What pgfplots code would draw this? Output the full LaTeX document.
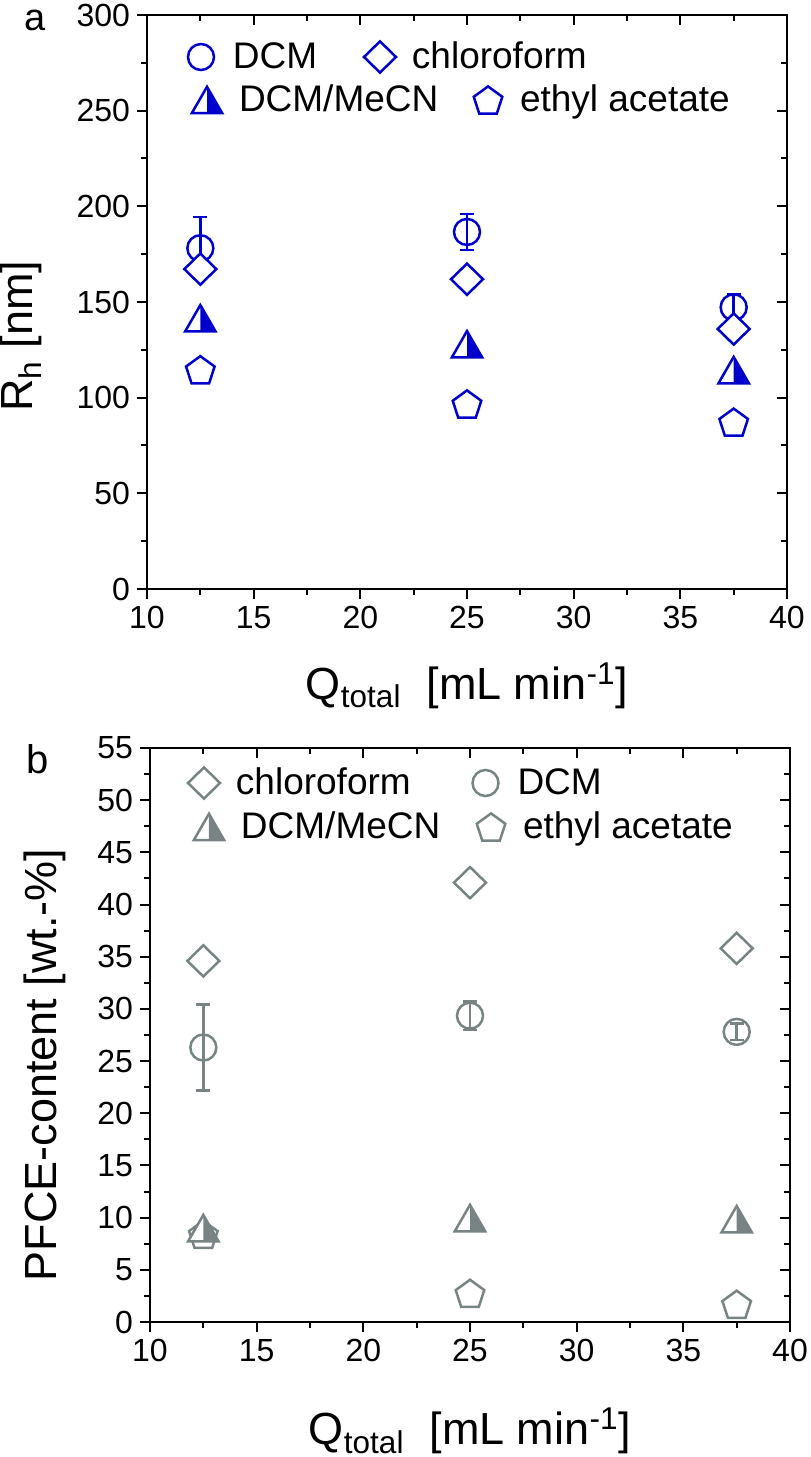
\documentclass[border=0pt]{standalone}
\usepackage{fontspec}
\setmainfont{Liberation Sans}
\usepackage{pgfplots}
\pgfplotsset{compat=1.18}
\usetikzlibrary{plotmarks}
\definecolor{cblue}{RGB}{0,0,204}
\definecolor{cgray}{RGB}{120,132,132}
\newcommand\tickfont{\fontsize{16}{19}\selectfont}
\newcommand\labfont{\fontsize{22.5}{27}\selectfont}
\newcommand\legfont{\fontsize{18.5}{22}\selectfont}

\pgfdeclareplotmark{mycirc}{%
  \pgfpathcircle{\pgfpointorigin}{6.5pt}\pgfusepathqstroke}
\pgfdeclareplotmark{mydiamond}{%
  \pgfpathmoveto{\pgfqpoint{0pt}{7.8pt}}%
  \pgfpathlineto{\pgfqpoint{8pt}{0pt}}%
  \pgfpathlineto{\pgfqpoint{0pt}{-7.8pt}}%
  \pgfpathlineto{\pgfqpoint{-8pt}{0pt}}%
  \pgfpathclose\pgfusepathqfillstroke}
\pgfdeclareplotmark{mypent}{%
  \pgfpathmoveto{\pgfqpoint{0pt}{6.784pt}}%
  \pgfpathlineto{\pgfqpoint{7.133pt}{1.602pt}}%
  \pgfpathlineto{\pgfqpoint{4.408pt}{-6.784pt}}%
  \pgfpathlineto{\pgfqpoint{-4.408pt}{-6.784pt}}%
  \pgfpathlineto{\pgfqpoint{-7.133pt}{1.602pt}}%
  \pgfpathclose\pgfusepathqfillstroke}
\pgfdeclareplotmark{halftri}{%
  \begin{pgfscope}\pgfsetfillcolor{white}%
  \pgfpathmoveto{\pgfqpoint{0pt}{6.6pt}}%
  \pgfpathlineto{\pgfqpoint{7.6pt}{-6.6pt}}%
  \pgfpathlineto{\pgfqpoint{-7.6pt}{-6.6pt}}%
  \pgfpathclose\pgfusepath{fill}\end{pgfscope}%
  \pgfpathmoveto{\pgfqpoint{0pt}{6.6pt}}%
  \pgfpathlineto{\pgfqpoint{7.6pt}{-6.6pt}}%
  \pgfpathlineto{\pgfqpoint{0pt}{-6.6pt}}%
  \pgfpathclose\pgfusepath{fill}%
  \pgfpathmoveto{\pgfqpoint{0pt}{6.6pt}}%
  \pgfpathlineto{\pgfqpoint{7.6pt}{-6.6pt}}%
  \pgfpathlineto{\pgfqpoint{-7.6pt}{-6.6pt}}%
  \pgfpathclose\pgfusepathqstroke}

\pgfplotsset{
  base/.style={scale only axis, width=320pt, height=287pt, anchor=south west,
    xmin=10, xmax=40, xtick={10,15,...,40}, minor x tick num=1, minor y tick num=1,
    axis line style={line width=1pt}, tick style={line width=1pt, black},
    major tick length=5pt, minor tick length=3pt,
    ticklabel style={font=\tickfont}, /pgf/number format/assume math mode=true,
    label style={font=\labfont}, clip=false},
  toppos/.style={at={(73.5pt,434pt)}, ymin=0, ymax=300, ytick={0,50,...,300}},
  botpos/.style={at={(75pt,67.5pt)}, ymin=0, ymax=55, ytick={0,5,...,55}},
  lowerticks/.style={xtick pos=left, ytick pos=left, tick align=outside},
  upperticks/.style={xtick pos=right, ytick pos=right, tick align=inside,
    xticklabels={}, yticklabels={}},
  legax/.style={scale only axis, width=320pt, height=287pt, anchor=south west,
    hide axis, xmin=0, xmax=1, ymin=0, ymax=1,
    legend style={draw=none, fill=none, inner sep=0pt, outer sep=0pt,
      anchor=west, font=\legfont},
    legend image code/.code={\path[draw=none,fill=none] (-10pt,0pt) -- (14pt,0pt);
      \draw[##1] plot coordinates {(0pt,0pt)};}},
  sCirc/.style={only marks, mark=mycirc, line width=1.25pt, color=#1},
  sDia/.style={only marks, mark=mydiamond, line width=1.25pt, color=#1, mark options={fill=white}},
  sTri/.style={only marks, mark=halftri, line width=1.25pt, color=#1, mark options={fill=#1}},
  sPent/.style={only marks, mark=mypent, line width=1.25pt, color=#1, mark options={fill=white}},
  ebars/.style={error bars/.cd, y dir=both, y explicit,
    error bar style={line width=1.25pt},
    error mark options={rotate=90, mark size=3.5pt, line width=1.25pt}},
}
\newcommand\legitem[5]{%
  \begin{axis}[legax, #1, legend style={at={(axis description cs:#2,#3)}}]
  \addlegendimage{#4}\addlegendentry{#5}
  \end{axis}}

\begin{document}
\begin{tikzpicture}
\path[use as bounding box] (0,0) rectangle (405pt,728.5pt);
% ---------------- panel a ----------------
\begin{axis}[base, toppos, lowerticks,
  xlabel={Q\textsubscript{total}\ \ [mL min\textsuperscript{-1}]},
  ylabel={R\textsubscript{h} [nm]},
  xlabel style={at={(axis description cs:0.5,-0.168)}, anchor=center},
  ylabel style={at={(axis description cs:-0.197,0.44)}, anchor=center}]
\addplot[sCirc=cblue, ebars] coordinates {
  (12.5,178.1) +- (0,16.2)
  (25,186.6) +- (0,9.4)
  (37.5,147.2) +- (0,7.0)};
\addplot[sDia=cblue] coordinates {(12.5,167.2) (25,161.9) (37.5,135.9)};
\addplot[sTri=cblue] coordinates {(12.5,141.5) (25,127.9) (37.5,114.4)};
\addplot[sPent=cblue] coordinates {(12.5,114.6) (25,96.7) (37.5,87.2)};
\node[font=\fontsize{19}{23}\selectfont] at (rel axis cs:-0.175,0.99) {a};
\end{axis}
\begin{axis}[base, toppos, upperticks]
\end{axis}
\legitem{at={(73.5pt,434pt)}}{0.0531}{0.9268}{sCirc=cblue}{DCM}
\legitem{at={(73.5pt,434pt)}}{0.3328}{0.9268}{sDia=cblue}{chloroform}
\legitem{at={(73.5pt,434pt)}}{0.0625}{0.8519}{sTri=cblue}{DCM/MeCN}
\legitem{at={(73.5pt,434pt)}}{0.5016}{0.8519}{sPent=cblue}{ethyl acetate}
% ---------------- panel b ----------------
\begin{axis}[base, botpos, lowerticks,
  xlabel={Q\textsubscript{total}\ \ [mL min\textsuperscript{-1}]},
  ylabel={PFCE-content [wt.-\%]},
  xlabel style={at={(axis description cs:0.5,-0.19)}, anchor=center},
  ylabel style={at={(axis description cs:-0.164,0.448)}, anchor=center}]
\addplot[sDia=cgray] coordinates {(12.5,34.6) (25,42.1) (37.5,35.8)};
\addplot[sCirc=cgray, ebars] coordinates {
  (12.5,26.3) +- (0,4.1)
  (25,29.35) +- (0,1.35)
  (37.5,27.8) +- (0,0.8)};
\addplot[sPent=cgray] coordinates {(12.5,8.4) (25,2.75) (37.5,1.7)};
\addplot[sTri=cgray] coordinates {(12.5,9.0) (25,9.96) (37.5,9.85)};
\node[font=\fontsize{20}{24}\selectfont] at (rel axis cs:-0.175,0.981) {b};
\end{axis}
\begin{axis}[base, botpos, upperticks]
\end{axis}
\legitem{at={(75pt,67.5pt)}}{0.0531}{0.939}{sDia=cgray}{chloroform}
\legitem{at={(75pt,67.5pt)}}{0.493}{0.939}{sCirc=cgray}{DCM}
\legitem{at={(75pt,67.5pt)}}{0.0609}{0.8624}{sTri=cgray}{DCM/MeCN}
\legitem{at={(75pt,67.5pt)}}{0.5016}{0.8624}{sPent=cgray}{ethyl acetate}
\end{tikzpicture}
\end{document}
